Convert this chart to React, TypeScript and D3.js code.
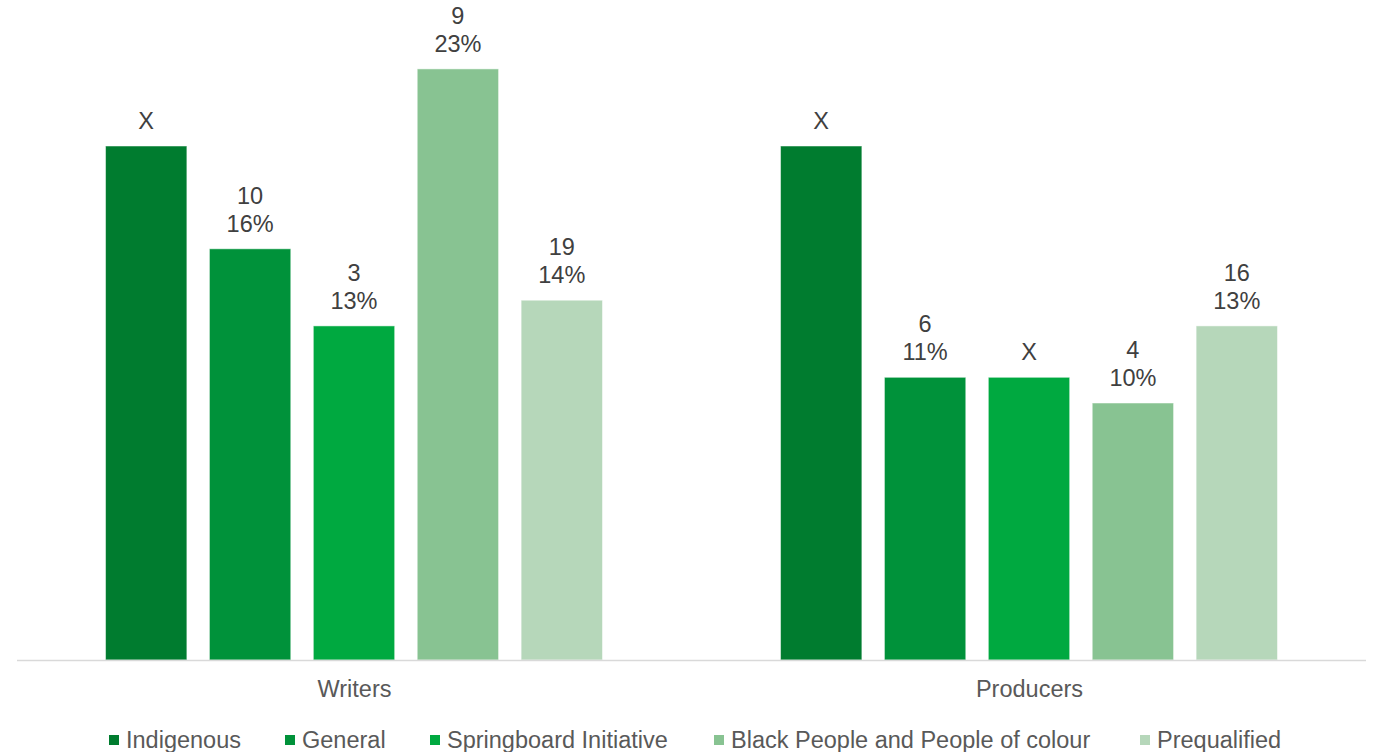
import React from "react";
import * as d3 from "d3";

const groups = ["Writers", "Producers"];
const seriesNames = ["Indigenous", "General", "Springboard Initiative", "Black People and People of colour", "Prequalified"];
const seriesColors = ["#007C2F", "#00923A", "#00A940", "#88C392", "#B6D7BA"];
// percentage values per series, [Writers, Producers]
const indigenousPct = [20, 20];
const generalPct = [16, 11];
const springboardPct = [13, 11];
const bpocPct = [23, 10];
const prequalifiedPct = [14, 13];
// count labels per series ("X" = suppressed, shown without percentage)
const indigenousCount = ["X", "X"];
const generalCount = ["10", "6"];
const springboardCount = ["3", "X"];
const bpocCount = ["9", "4"];
const prequalifiedCount = ["19", "16"];

const allPct = [indigenousPct, generalPct, springboardPct, bpocPct, prequalifiedPct];
const allCount = [indigenousCount, generalCount, springboardCount, bpocCount, prequalifiedCount];

const W = 1373;
const H = 752;
const FONT = "'Liberation Sans', Arial, sans-serif";
const FS = 23.5;

export default function App() {
  const x0 = d3.scaleBand<string>().domain(groups).range([17, 1367]).padding(0);
  const innerGap = 0.217;
  const x1 = d3
    .scaleBand<string>()
    .domain(seriesNames)
    .range([77.25, x0.bandwidth() - 78.25])
    .paddingInner(innerGap)
    .paddingOuter(innerGap / 2);
  const y = d3.scaleLinear().domain([0, 25]).range([660, 17.5]);

  const legendX = [109, 285, 430, 714, 1140];

  return (
    <svg width={W} height={H} style={{ position: "absolute", left: 0, top: 0, background: "#fff" }} fontFamily={FONT}>
      {groups.map((g, gi) => (
        <g key={g} transform={`translate(${x0(g)},0)`}>
          {seriesNames.map((s, si) => {
            const v = allPct[si][gi];
            const c = allCount[si][gi];
            const bx = x1(s)!;
            const bw = x1.bandwidth();
            const top = y(v);
            const cx = bx + bw / 2;
            return (
              <g key={s}>
                <rect x={bx} y={top} width={bw} height={y(0) - top} fill={seriesColors[si]} stroke="#ffffff" strokeOpacity={0.5} strokeWidth={1} />
                {c === "X" ? (
                  <text x={cx} y={top - 17} textAnchor="middle" fontSize={FS} fill="#404040">X</text>
                ) : (
                  <>
                    <text x={cx} y={top - 45} textAnchor="middle" fontSize={FS} fill="#404040">{c}</text>
                    <text x={cx} y={top - 17} textAnchor="middle" fontSize={FS} fill="#404040">{v}%</text>
                  </>
                )}
              </g>
            );
          })}
          <text x={x0.bandwidth() / 2} y={697} textAnchor="middle" fontSize={FS} fill="#595959">{g}</text>
        </g>
      ))}
      <line x1={17} x2={1366} y1={y(0) + 0.5} y2={y(0) + 0.5} stroke="#D9D9D9" strokeWidth={1.5} />
      {seriesNames.map((s, si) => (
        <g key={s} transform={`translate(${legendX[si]},0)`}>
          <rect x={0} y={735} width={10} height={10} fill={seriesColors[si]} />
          <text x={17} y={748} fontSize={FS} fill="#595959">{s}</text>
        </g>
      ))}
    </svg>
  );
}
